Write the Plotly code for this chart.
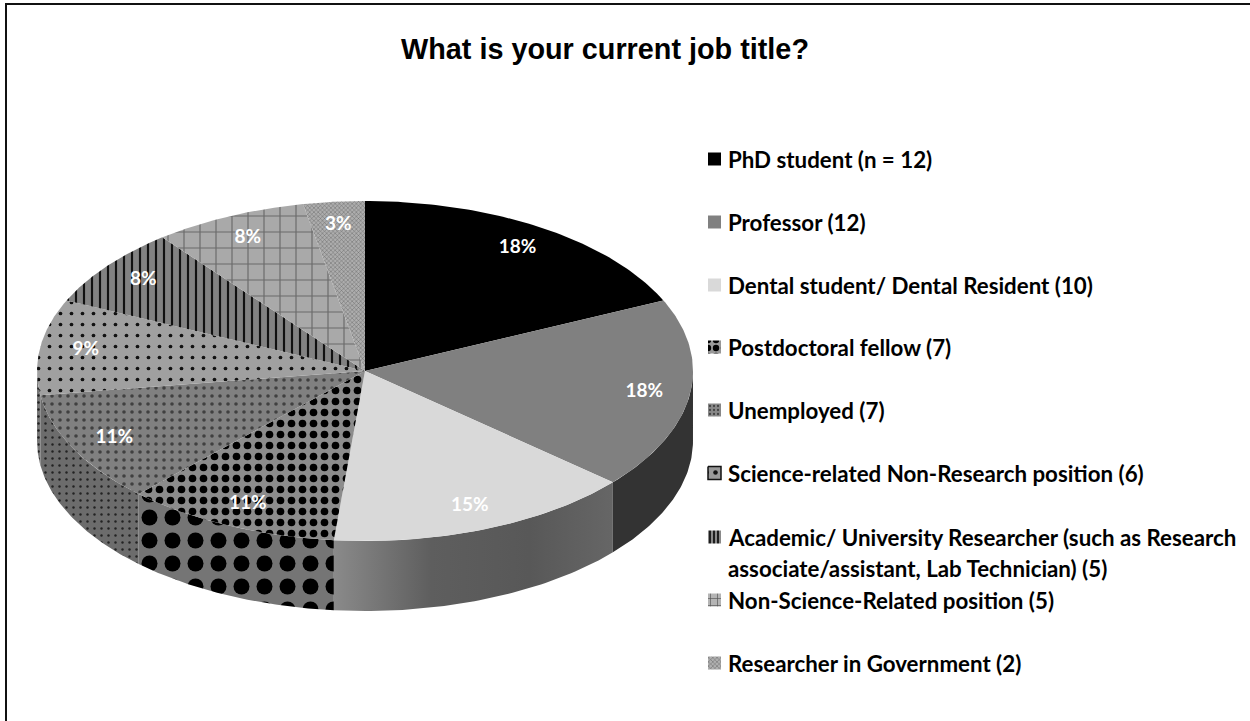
import numpy as np
import plotly.graph_objects as go

# Survey responses, in clockwise order from twelve o'clock
categories = [
    "PhD student (n = 12)",
    "Professor (12)",
    "Dental student/ Dental Resident (10)",
    "Postdoctoral fellow (7)",
    "Unemployed (7)",
    "Science-related Non-Research position (6)",
    "Academic/ University Researcher (such as Research<br>associate/assistant, Lab Technician) (5)",
    "Non-Science-Related position (5)",
    "Researcher in Government (2)",
]
counts = [12, 12, 10, 7, 7, 6, 5, 5, 2]
title_text = "What is your current job title?"

# Tilted disc geometry, in page pixels
CX, CY, RX, RY, DEPTH = 365, 371, 328, 170, 70
LABEL_RADIUS = 0.86


def solid(color):
    return dict(fillcolor=color)


def hatch(shape, size, solidity, fg, bg):
    return dict(
        fillcolor=bg,
        fillpattern=dict(shape=shape, size=size, solidity=solidity, fgcolor=fg,
                         bgcolor=bg, fillmode="replace"),
    )


top_styles = [
    solid("#000000"),
    solid("#808080"),
    solid("#d9d9d9"),
    hatch(".", 11, 0.38, "#000000", "#8c8c8c"),
    hatch(".", 8, 0.16, "#404040", "#808080"),
    hatch(".", 11, 0.09, "#111111", "#a0a0a0"),
    hatch("|", 8, 0.27, "#111111", "#828282"),
    hatch("+", 16, 0.14, "#6a6a6a", "#a9a9a9"),
    hatch("x", 3, 0.28, "#666666", "#adadad"),
]


def ramp(*stops):
    return dict(
        fillcolor="#666666",
        fillgradient=dict(type="horizontal", colorscale=list(stops)),
    )


wall_styles = [
    solid("#333333"),
    solid("#333333"),
    ramp([0, "#8a8a8a"], [0.35, "#5e5e5e"], [0.7, "#585858"], [1, "#666666"]),
    hatch(".", 23, 0.38, "#000000", "#757575"),
    hatch(".", 7, 0.1, "#222222", "#6c6c6c"),
    hatch(".", 7, 0.1, "#222222", "#777777"),
    solid("#555555"),
    solid("#777777"),
    solid("#777777"),
]

# Cumulative slice angles, in radians clockwise from the top
edges = np.cumsum([0] + counts) / sum(counts) * 2 * np.pi


def rim(theta):
    return CX + RX * np.sin(theta), CY - RY * np.cos(theta)


def add_poly(fig, xs, ys, style, name, outline=None):
    line = dict(width=1.5, color=outline) if outline else dict(width=0)
    fig.add_trace(go.Scatter(
        x=xs, y=ys, mode="lines", line=line, fill="toself",
        hoverinfo="text", text=name, showlegend=False, **style,
    ))


fig = go.Figure()

# Side walls: only the part of the rim facing the viewer is drawn
for i, name in enumerate(categories):
    a0, a1 = max(edges[i], np.pi / 2), min(edges[i + 1], 3 * np.pi / 2)
    if a1 <= a0:
        continue
    theta = np.linspace(a0, a1, 60)
    x, y = rim(theta)
    add_poly(fig, np.r_[x, x[::-1], x[0]], np.r_[y, y[::-1] + DEPTH, y[0]],
             wall_styles[i], name)

# Top faces of the slices
for i, name in enumerate(categories):
    theta = np.linspace(edges[i], edges[i + 1], 80)
    x, y = rim(theta)
    add_poly(fig, np.r_[CX, x, CX], np.r_[CY, y, CY], top_styles[i], name)

# Percentage labels at each slice's mid angle
share = np.array(counts) / sum(counts)
mids = (edges[:-1] + edges[1:]) / 2
lx = CX + LABEL_RADIUS * RX * np.sin(mids)
ly = CY - LABEL_RADIUS * RY * np.cos(mids)
fig.add_trace(go.Scatter(
    x=lx, y=ly, mode="text", text=[f"{p * 100:.0f}%" for p in share],
    textfont=dict(family="Lato", size=19, color="#ffffff", weight="bold"),
    hoverinfo="skip", showlegend=False,
))

# Legend: swatch plus text in one column
LEG_X, LEG_SW, LEG_TXT, LEG_LINE = 708, 13, 726, 31
row_y = [159, 222, 285, 347, 410, 473, 537, 600, 663]
swatches = [
    solid("#000000"),
    solid("#808080"),
    solid("#d9d9d9"),
    hatch(".", 8, 0.5, "#000000", "#999999"),
    hatch(".", 4, 0.25, "#444444", "#888888"),
    hatch(".", 9, 0.2, "#111111", "#999999"),
    hatch("|", 4, 0.45, "#111111", "#8a8a8a"),
    hatch("+", 7, 0.18, "#555555", "#b5b5b5"),
    hatch("x", 3, 0.3, "#666666", "#b0b0b0"),
]
swatch_outline = [None, None, None, None, None, "#111111", None, None, None]
legend_notes = []
for name, yc, style, edge in zip(categories, row_y, swatches, swatch_outline):
    h = LEG_SW / 2
    add_poly(fig,
             [LEG_X, LEG_X + LEG_SW, LEG_X + LEG_SW, LEG_X, LEG_X],
             [yc - h, yc - h, yc + h, yc + h, yc - h], style, name, outline=edge)
    for k, part in enumerate(name.split("<br>")):
        legend_notes.append(dict(
            x=LEG_TXT, y=yc + k * LEG_LINE, xref="x", yref="y",
            text=part, showarrow=False, xanchor="left", yanchor="middle", align="left",
            font=dict(family="Lato", size=22.3, color="#000000", weight="bold"),
        ))

fig.update_layout(
    width=1250, height=721,
    margin=dict(l=0, r=0, t=0, b=0),
    paper_bgcolor="#ffffff", plot_bgcolor="#ffffff",
    xaxis=dict(range=[0, 1250], visible=False, fixedrange=True),
    yaxis=dict(range=[721, 0], visible=False, fixedrange=True),
    showlegend=False,
    annotations=legend_notes + [dict(
        x=605, y=49, xref="x", yref="y", text=title_text, showarrow=False,
        font=dict(family="Liberation Sans", size=28.8, color="#000000", weight="bold"),
    )],
    shapes=[dict(type="rect", xref="x", yref="y", x0=6, y0=4, x1=1262, y1=733,
                 line=dict(color="#111111", width=2), layer="above")],
)

fig.write_html("out.html")
